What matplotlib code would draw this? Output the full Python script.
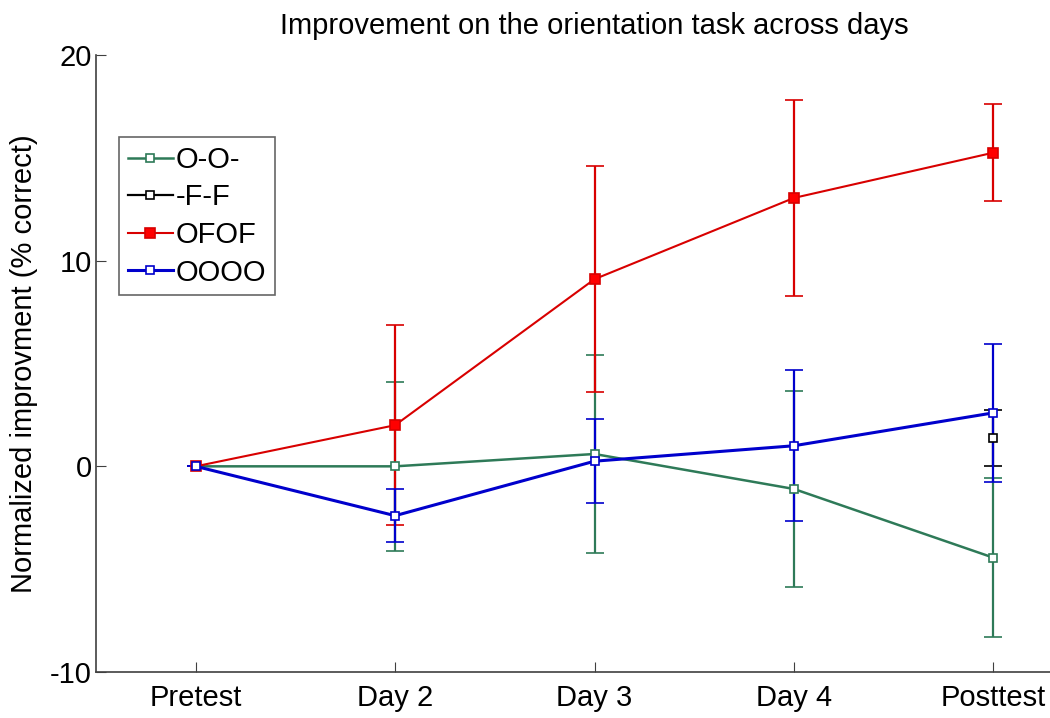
"""
# Improvement on the orientation task across days (line plot with error bars)
"""

### Packages
import numpy as np
import matplotlib
matplotlib.use("Agg")
import matplotlib.pyplot as plt

### Data
days = ["Pretest", "Day 2", "Day 3", "Day 4", "Posttest"]

# O-O- (green)
oo_mean = [0, 0.0, 0.6, -1.1, -4.44]
oo_err = [0, 4.1, 4.8, 4.78, 3.88]
# -F-F (black), only measured at pre and post test
ff_mean = [0, np.nan, np.nan, np.nan, 1.38]
ff_err = [0, np.nan, np.nan, np.nan, 1.34]
# OFOF (red)
ofof_mean = [0, 2.0, 9.1, 13.05, 15.25]
ofof_err = [0, 4.86, 5.5, 4.75, 2.35]
# OOOO (blue)
oooo_mean = [0, -2.4, 0.25, 1.0, 2.6]
oooo_err = [0, 1.28, 2.03, 3.67, 3.37]

### Plot
plt.rcParams['font.family'] = ['Liberation Sans', 'DejaVu Sans']
plt.rcParams['axes.unicode_minus'] = False

fig = plt.figure(figsize=(10.5, 7.18), dpi=100)
# axes right edge runs past the figure (x limit 5.5 is cut off like the original)
ax = fig.add_axes([96 / 1050, 1 - 672 / 718, 997 / 1050, (672 - 55) / 718])

x = np.arange(1, len(days) + 1)

series = [
    (oo_mean, oo_err, "O-O-", "#2e7a58", "white", 1.8, 6),
    (ff_mean, ff_err, "-F-F", "black", "white", 1.6, 6),
    (ofof_mean, ofof_err, "OFOF", "#d80000", "#ff0000", 1.5, 7),
    (oooo_mean, oooo_err, "OOOO", "#0000cc", "white", 2.2, 6),
]
handles = []
for mean, err, label, col, face, lw, ms in series:
    eb = ax.errorbar(x, mean, yerr=err, color=col, lw=lw, elinewidth=1.6,
                     capsize=6.5, capthick=1.6, marker="s", markersize=ms,
                     markerfacecolor=face, markeredgecolor=col,
                     markeredgewidth=1.2, label=label)
    handles.append(eb[0])  # only the line + marker goes in the legend

ax.set_xlim(0.5, 5.5)
ax.set_ylim(-10, 20)
ax.set_xticks(x)
ax.set_xticklabels(days)
ax.set_yticks([-10, 0, 10, 20])
ax.tick_params(direction="in", length=7, labelsize=21, color="#404040")
ax.tick_params(axis="x", pad=9)
ax.tick_params(axis="y", pad=3)

ax.spines["top"].set_visible(False)
ax.spines["right"].set_visible(False)
for s in ["left", "bottom"]:
    ax.spines[s].set_color("#404040")
    ax.spines[s].set_linewidth(1.2)

ax.set_ylabel("Normalized improvment (% correct)", fontsize=21)
ax.yaxis.set_label_coords(-0.058, 0.5)
ax.set_title("Improvement on the orientation task across days", fontsize=21, pad=15)

leg = ax.legend(handles=handles, labels=[s[2] for s in series],
                loc="upper left", bbox_to_anchor=(23 / 997, 1 - 82 / 617),
                fontsize=21, frameon=True, fancybox=False, handlelength=1.55,
                handletextpad=0.1, borderpad=0.3, labelspacing=0.33,
                borderaxespad=0)
leg.get_frame().set_edgecolor("#404040")
leg.get_frame().set_linewidth(1.2)

plt.savefig("out.png", dpi=100)
